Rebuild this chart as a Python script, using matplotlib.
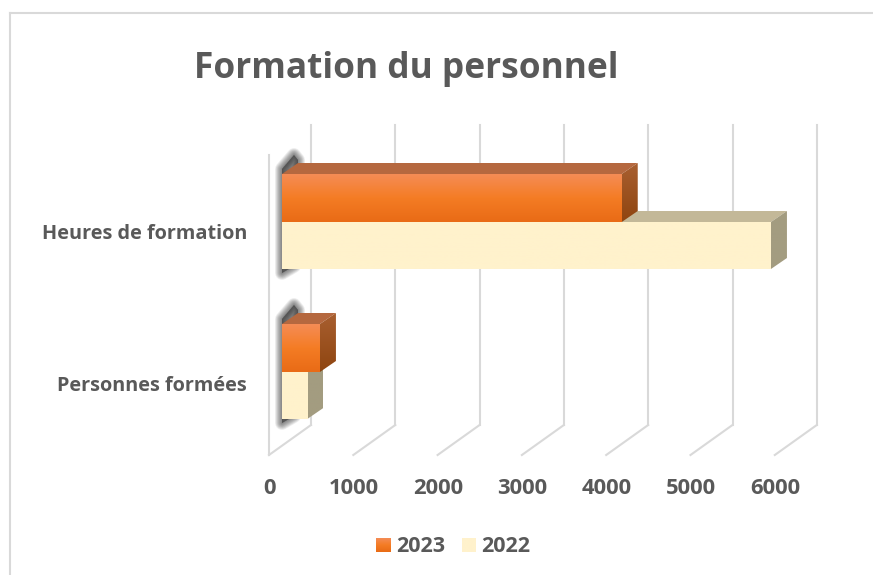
import numpy as np
import matplotlib

matplotlib.use('Agg')
import matplotlib.pyplot as plt
from matplotlib.colors import LinearSegmentedColormap
from matplotlib.patches import Polygon

plt.rcParams['font.family'] = ['Open Sans', 'DejaVu Sans']

# data
categories = ['Heures de formation', 'Personnes formées']
values_2023 = [4030, 450]
values_2022 = [5800, 300]
ticks = [0, 1000, 2000, 3000, 4000, 5000, 6000]
tick_labels = ['0', '1000', '2000', '3000', '4000', '5000', '6000']

PX_PER_UNIT = 0.0843  # horizontal pixels for one unit of the value axis
X0 = 282              # pixel of value 0 on the bars' front plane
DEPTH_X = 16
DEPTH_Y = 11
BAR_H = 48
CENTRES = [222, 372]

TEXT = '#595959'
GRID = '#d9d9d9'


def px(dx):
    # pixel offset expressed in value units
    return dx / PX_PER_UNIT


def draw_bar(ax, value, top, bottom, front_cmap, top_col, side_cmap, z):
    right = value
    # top face
    ax.add_patch(Polygon([(0, top), (px(DEPTH_X), top - DEPTH_Y),
                          (right + px(DEPTH_X), top - DEPTH_Y), (right, top)],
                         closed=True, fc=top_col, ec='none', zorder=z))
    # side face, clipped gradient
    side = Polygon([(right, top), (right + px(DEPTH_X), top - DEPTH_Y),
                    (right + px(DEPTH_X), bottom - DEPTH_Y), (right, bottom)],
                   closed=True, fc='none', ec='none', zorder=z)
    ax.add_patch(side)
    im = ax.imshow(np.linspace(0, 1, 64).reshape(-1, 1), cmap=side_cmap, aspect='auto',
                   extent=[right, right + px(DEPTH_X), bottom, top - DEPTH_Y], zorder=z)
    im.set_clip_path(side)
    # front face
    ax.imshow(np.linspace(0, 1, 64).reshape(-1, 1), cmap=front_cmap, aspect='auto',
              extent=[0, right, bottom, top], zorder=z + 0.1)


def draw_shadow(ax, top, bottom):
    # soft shadow behind the start of the bars, stacked outlines of the same shape
    pts = [(0, top - 5), (12, top - 19), (16, top - 14), (16, top), (3, top), (3, bottom - 2),
           (11, bottom - 8), (12, bottom - 4), (0, bottom + 3)]
    xy = [(px(a), b) for a, b in pts]
    for lw in [10, 9, 8, 7, 6, 5, 4, 3, 2, 1]:
        ax.add_patch(Polygon(xy, closed=True, fc=(0.15, 0.15, 0.15, 0.07),
                             ec=(0.15, 0.15, 0.15, 0.07), lw=lw, zorder=2, joinstyle='round'))


orange = LinearSegmentedColormap.from_list('orange', ['#f58c55', '#f47c24', '#e96b16'])
orange_side = LinearSegmentedColormap.from_list('orange_side', ['#a85f30', '#8f4510'])
cream = LinearSegmentedColormap.from_list('cream', ['#fff2cc', '#fff2cc'])
cream_side = LinearSegmentedColormap.from_list('cream_side', ['#a39c80', '#a39c80'])

fig = plt.figure(figsize=(8.73, 5.75), dpi=100, facecolor='white')
ax = fig.add_axes([0, 0, 1, 1])

# back grid, floor lines and front wall
for t in ticks:
    back = t + px(29)
    front = t + px(-13)
    ax.plot([back, back], [125, 425], color=GRID, lw=1.5, zorder=1)
    ax.plot([front, back], [455, 425], color=GRID, lw=1.5, zorder=1)
ax.plot([px(-13), px(-13)], [155, 455], color=GRID, lw=1.5, zorder=1)

for c in CENTRES:
    draw_shadow(ax, c - BAR_H, c + BAR_H)

for i, c in enumerate(CENTRES):
    draw_bar(ax, values_2022[i], c, c + BAR_H - 1, cream, '#c3b898', cream_side, 3)
    draw_bar(ax, values_2023[i], c - BAR_H, c, orange, '#b5683f', orange_side, 4)
    ax.text(px(247 - X0), c + 12 if i == 0 else c + 14, categories[i], ha='right', va='center',
            fontsize=14.3, fontweight='bold', color=TEXT)

for t, lab in zip(ticks, tick_labels):
    ax.text(t + px(-12.5), 489, lab, ha='center', va='center',
            fontsize=15.8, fontweight='bold', color=TEXT)

ax.text(px(406 - X0), 69, 'Formation du personnel', ha='center', va='center',
        fontsize=25.4, fontweight='bold', color=TEXT)

# legend
ax.imshow(np.linspace(0, 1, 64).reshape(-1, 1), cmap=orange, aspect='auto',
          extent=[px(376 - X0), px(391 - X0), 552, 538], zorder=3)
ax.text(px(396 - X0), 546, '2023', ha='left', va='center',
        fontsize=15.5, fontweight='bold', color=TEXT)
ax.imshow(np.linspace(0, 1, 64).reshape(-1, 1), cmap=cream, aspect='auto',
          extent=[px(462 - X0), px(476 - X0), 552, 538], zorder=3)
ax.text(px(481 - X0), 546, '2022', ha='left', va='center',
        fontsize=15.5, fontweight='bold', color=TEXT)

# chart frame
ax.plot([px(10 - X0), px(10 - X0)], [575, 13], color=GRID, lw=1.5, zorder=1)
ax.plot([px(10 - X0), px(873 - X0)], [13, 13], color=GRID, lw=1.5, zorder=1)

ax.set_xlim(px(-X0), px(873 - X0))
ax.set_ylim(575, 0)
ax.axis('off')

fig.savefig('out.png', dpi=100)
